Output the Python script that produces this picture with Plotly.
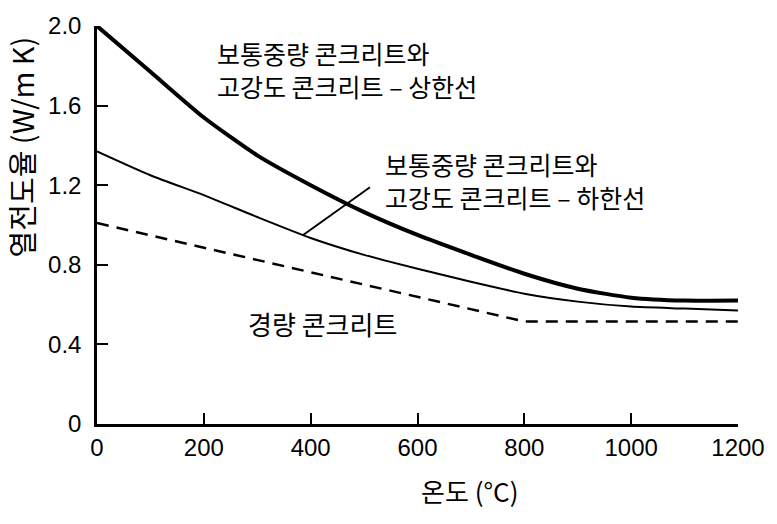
import plotly.graph_objects as go

# Data
temp = [0, 100, 200, 300, 400, 500, 600, 700, 800, 900, 1000, 1100, 1200]
upper = [2.0, 1.77, 1.54, 1.35, 1.20, 1.065, 0.95, 0.85, 0.755, 0.68, 0.635, 0.62, 0.62]
lower = [1.37, 1.25, 1.15, 1.04, 0.935, 0.85, 0.78, 0.715, 0.655, 0.615, 0.59, 0.58, 0.57]
light_temp = [0, 800, 1200]
light = [1.01, 0.515, 0.515]

x_ticks = [0, 200, 400, 600, 800, 1000, 1200]
y_ticks = [0, 0.4, 0.8, 1.2, 1.6, 2.0]
y_ticklabels = ["0", "0.4", "0.8", "1.2", "1.6", "2.0"]

label_upper = "보통중량 콘크리트와<br>고강도 콘크리트 – 상한선"
label_lower = "보통중량 콘크리트와<br>고강도 콘크리트 – 하한선"
label_light = "경량 콘크리트"
x_title = "온도 (°C)"
y_title = "열전도율 (W/m K)"

leader = dict(x0=386, y0=0.95, x1=511, y1=1.19)

KFONT = "Noto Sans CJK KR"
NFONT = "Liberation Sans, Arial, sans-serif"

fig = go.Figure()
fig.add_trace(go.Scatter(x=temp, y=upper, mode="lines", line=dict(color="black", width=4, shape="spline", smoothing=0.6)))
fig.add_trace(go.Scatter(x=temp, y=lower, mode="lines", line=dict(color="black", width=2, shape="spline", smoothing=0.6)))
fig.add_trace(go.Scatter(x=light_temp, y=light, mode="lines", line=dict(color="black", width=2.5, dash="12px,8px")))

fig.add_shape(type="line", xref="x", yref="y", line=dict(color="black", width=2), **leader)

fig.add_annotation(x=221, y=1.78, xref="x", yref="y", text=label_upper, showarrow=False,
                   xanchor="left", yanchor="middle", align="left", font=dict(family=KFONT, size=25, color="black"))
fig.add_annotation(x=535, y=1.225, xref="x", yref="y", text=label_lower, showarrow=False,
                   xanchor="left", yanchor="middle", align="left", font=dict(family=KFONT, size=25, color="black"))
fig.add_annotation(x=423, y=0.505, xref="x", yref="y", text=label_light, showarrow=False,
                   xanchor="center", yanchor="middle", font=dict(family=KFONT, size=26, color="black"))
fig.add_annotation(x=698, xref="x", y=0, yref="paper", yshift=-66, text=x_title, showarrow=False,
                   xanchor="center", yanchor="middle", font=dict(family=KFONT, size=26, color="black"))
fig.add_annotation(x=0, xref="paper", xanchor="center", xshift=-76, y=1.39, yref="y", yanchor="middle",
                   text=y_title, textangle=-90, showarrow=False,
                   font=dict(family=KFONT, size=29, color="black"))

fig.update_layout(
    width=777, height=524,
    margin=dict(l=97, r=39, t=20, b=100),
    paper_bgcolor="white", plot_bgcolor="white",
    showlegend=False,
)
fig.update_xaxes(range=[0, 1200], tickvals=x_ticks, ticks="inside", ticklen=11, tickwidth=2,
                 tickcolor="black", showline=True, linecolor="black", linewidth=2.5,
                 showgrid=False, zeroline=False, tickfont=dict(family=NFONT, size=24, color="black"))
fig.update_yaxes(range=[0, 2.0], tickvals=y_ticks, ticktext=y_ticklabels, ticks="inside", ticklen=11,
                 tickwidth=2, tickcolor="black", showline=True, linecolor="black", linewidth=2.5,
                 showgrid=False, zeroline=False, ticklabelstandoff=8,
                 tickfont=dict(family=NFONT, size=24, color="black"))

fig.write_html("out.html")
